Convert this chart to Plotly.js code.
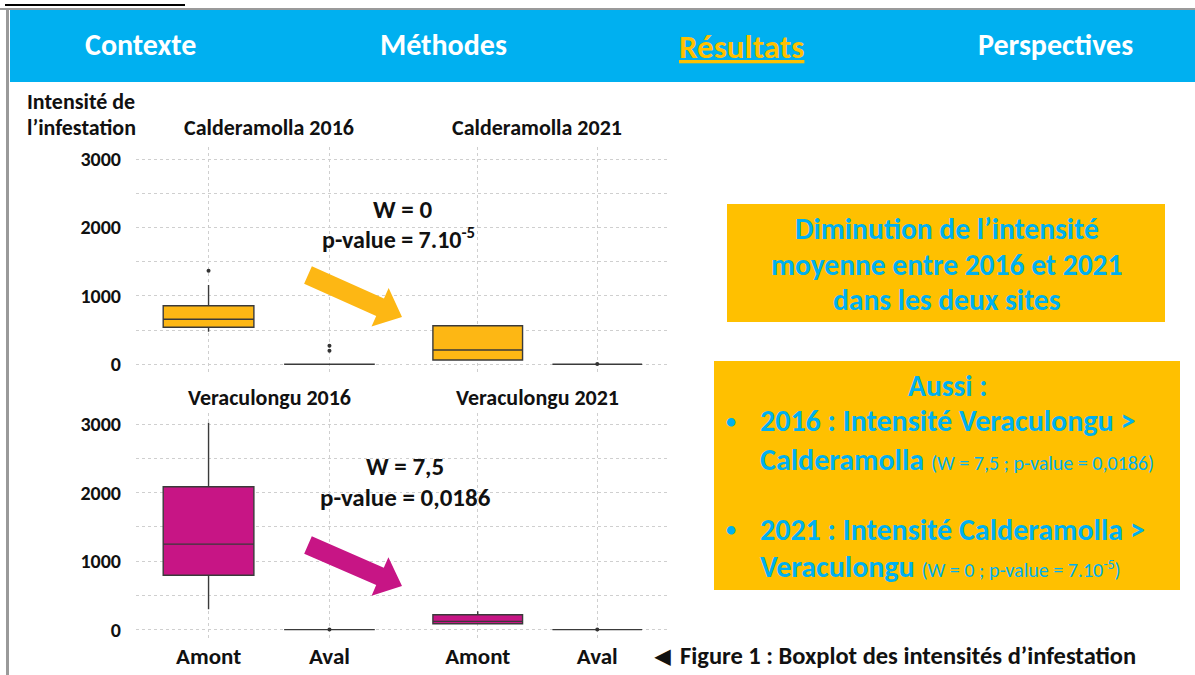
<!DOCTYPE html>
<html><head><meta charset="utf-8">
<script src="https://cdn.plot.ly/plotly-3.0.1.min.js"></script>
<style>html,body{margin:0;padding:0;background:#fff;} #chart{width:1195px;height:675px;}</style>
</head><body><div id="chart"></div>
<script>
// ---------- DATA ----------
const categories = ['Amont', 'Aval'];
const panelTitles = ['Calderamolla 2016', 'Calderamolla 2021', 'Veraculongu 2016', 'Veraculongu 2021'];
const yTickVals = [0, 1000, 2000, 3000];

// Calderamolla 2016
const cal16_q1 = [540, 0], cal16_med = [657, 0], cal16_q3 = [855, 0], cal16_lo = [476, 0], cal16_hi = [1158, 0];
const cal16_outX = ['Amont', 'Aval', 'Aval'], cal16_outY = [1366, 272, 199];
// Calderamolla 2021
const cal21_q1 = [63, 0], cal21_med = [209, 0], cal21_q3 = [563, 0], cal21_lo = [55, 0], cal21_hi = [563, 0];
const cal21_outX = ['Aval'], cal21_outY = [4];
// Veraculongu 2016
const ver16_q1 = [795, 0], ver16_med = [1249, 0], ver16_q3 = [2087, 0], ver16_lo = [299, 0], ver16_hi = [3020, 0];
const ver16_outX = ['Aval'], ver16_outY = [4];
// Veraculongu 2021
const ver21_q1 = [87, 0], ver21_med = [121, 0], ver21_q3 = [217, 0], ver21_lo = [87, 0], ver21_hi = [270, 0];
const ver21_outX = ['Aval'], ver21_outY = [4];

const navItems = ['Contexte', 'Méthodes', 'Résultats', 'Perspectives'];

// ---------- STYLE ----------
const FONT = 'Carlito, Lato, "Open Sans", sans-serif';
const ORANGE = '#FDB714';
const MAGENTA = '#C71585';
const GOLD = '#FFC000';
const BLUE = '#00B0F0';
const GRID = '#cfcfcf';
const W = 1195, H = 675;
const fx = px => px / W;
const fy = py => 1 - py / H;

function boxTrace(xa, ya, q1, med, q3, lo, hi, color) {
  return {
    type: 'box', x: categories, q1: q1, median: med, q3: q3, lowerfence: lo, upperfence: hi,
    xaxis: xa, yaxis: ya, fillcolor: color, width: 0.75, whiskerwidth: 0,
    line: {color: '#3a3a3a', width: 1.4}, boxpoints: false, hoverinfo: 'skip', showlegend: false
  };
}
function outTrace(xa, ya, xs, ys) {
  return {type: 'scatter', mode: 'markers', x: xs, y: ys, xaxis: xa, yaxis: ya,
    marker: {color: '#333', size: 4}, hoverinfo: 'skip', showlegend: false, cliponaxis: false};
}

const data = [
  boxTrace('x', 'y', cal16_q1, cal16_med, cal16_q3, cal16_lo, cal16_hi, ORANGE),
  outTrace('x', 'y', cal16_outX, cal16_outY),
  boxTrace('x2', 'y', cal21_q1, cal21_med, cal21_q3, cal21_lo, cal21_hi, ORANGE),
  outTrace('x2', 'y', cal21_outX, cal21_outY),
  boxTrace('x3', 'y2', ver16_q1, ver16_med, ver16_q3, ver16_lo, ver16_hi, MAGENTA),
  outTrace('x3', 'y2', ver16_outX, ver16_outY),
  boxTrace('x4', 'y2', ver21_q1, ver21_med, ver21_q3, ver21_lo, ver21_hi, MAGENTA),
  outTrace('x4', 'y2', ver21_outX, ver21_outY)
];

function xAxis(d, anchor, labels) {
  return {
    domain: d, anchor: anchor, type: 'category', categoryorder: 'array', categoryarray: categories,
    range: [-0.6, 1.6], showgrid: true, gridcolor: GRID, griddash: 'dot', gridwidth: 1,
    zeroline: false, showline: false, showticklabels: labels, ticks: '',
    tickfont: {family: FONT, size: 23, color: '#111', weight: 'bold'}, fixedrange: true
  };
}
function yAxis(d, anchor) {
  return {
    domain: d, anchor: anchor, range: [-151, 3171], tickvals: yTickVals, ticktext: yTickVals.map(String),
    showgrid: true, gridcolor: GRID, griddash: 'dot', gridwidth: 1,
    minor: {dtick: 500, tick0: 0, showgrid: true, gridcolor: GRID, griddash: 'dot', gridwidth: 1, ticks: ''},
    zeroline: false, showline: false, ticks: 'outside', ticklen: 10, tickcolor: 'rgba(0,0,0,0)',
    tickfont: {family: FONT, size: 20, color: '#111', weight: 'bold'}, fixedrange: true
  };
}

const p1 = [fx(136), fx(402)], p2 = [fx(406), fx(669)];
const rowTop = [fy(374.6), fy(147.3)], rowBot = [fy(640), fy(412.5)];

function arrowPath(tx, ty, hx, hy, sw, hw, hl) {
  const dx = hx - tx, dy = hy - ty, len = Math.hypot(dx, dy);
  const ux = dx / len, uy = dy / len, nx = -uy, ny = ux;
  const bx = hx - ux * hl, by = hy - uy * hl;
  const pts = [
    [tx + nx * sw / 2, ty + ny * sw / 2], [bx + nx * sw / 2, by + ny * sw / 2], [bx + nx * hw / 2, by + ny * hw / 2],
    [hx, hy], [bx - nx * hw / 2, by - ny * hw / 2], [bx - nx * sw / 2, by - ny * sw / 2], [tx - nx * sw / 2, ty - ny * sw / 2]
  ];
  return 'M ' + pts.map(p => fx(p[0]).toFixed(5) + ',' + fy(p[1]).toFixed(5)).join(' L ') + ' Z';
}
function rectPx(x0, y0, x1, y1, color, layer) {
  return {type: 'rect', xref: 'paper', yref: 'paper', x0: fx(x0), x1: fx(x1), y0: fy(y1), y1: fy(y0),
    fillcolor: color, line: {width: 0}, layer: layer || 'below'};
}

const shapes = [
  rectPx(10, 10, 1195, 82, BLUE),
  rectPx(0, 8, 1195, 10, '#9a9a9a'),
  rectPx(6, 8, 9, 675, '#9a9a9a'),
  rectPx(5, 4, 185, 6, '#000'),
  rectPx(727, 204, 1165, 322, GOLD),
  rectPx(714, 361, 1180, 590, GOLD),
  {type: 'path', xref: 'paper', yref: 'paper', path: arrowPath(308, 275, 402, 317, 19, 42, 24), fillcolor: ORANGE, line: {width: 0}, layer: 'above'},
  {type: 'path', xref: 'paper', yref: 'paper', path: arrowPath(308, 545, 402, 586, 19, 42, 24), fillcolor: MAGENTA, line: {width: 0}, layer: 'above'}
];

function ann(text, x, y, size, color, opts) {
  return Object.assign({text: text, xref: 'paper', yref: 'paper', x: fx(x), y: fy(y), showarrow: false,
    xanchor: 'center', yanchor: 'middle', font: {family: FONT, size: size, color: color, weight: 'bold'}}, opts || {});
}

const navX = [140, 443, 741, 1055];
const annotations = [
  ann(navItems[0], navX[0], 45, 30, '#fff'),
  ann(navItems[1], navX[1], 45, 30, '#fff'),
  ann('<u>' + navItems[2] + '</u>', navX[2], 47, 33, GOLD),
  ann(navItems[3], navX[3], 45, 30, '#fff'),
  ann('Intensité de', 25, 101, 22, '#111', {xanchor: 'left'}),
  ann('l’infestation', 25, 127, 22, '#111', {xanchor: 'left'}),
  ann(panelTitles[0], 269, 127, 22, '#111'),
  ann(panelTitles[1], 537, 127, 22, '#111'),
  ann(panelTitles[2], 269, 397, 22, '#111'),
  ann(panelTitles[3], 537, 397, 22, '#111'),
  ann('W = 0', 402, 209, 25, '#111'),
  ann('p-value = 7.10<sup>-5</sup>', 398, 238, 24, '#111'),
  ann('W = 7,5', 405, 466, 25, '#111'),
  ann('p-value = 0,0186', 405, 497, 25, '#111'),
  ann('Diminution de l’intensité', 947, 229, 29.5, BLUE),
  ann('moyenne entre 2016 et 2021', 947, 265, 29.5, BLUE),
  ann('dans les deux sites', 947, 300, 29.5, BLUE),
  ann('Aussi :', 947, 386, 29.5, BLUE),
  ann('•', 731, 421, 20, BLUE),
  ann('2016 : Intensité Veraculongu >', 758, 421, 30, BLUE, {xanchor: 'left'}),
  ann('Calderamolla <span style="font-size:20px;font-weight:normal">(W = 7,5 ; p-value = 0,0186)</span>', 758, 459, 30, BLUE, {xanchor: 'left'}),
  ann('•', 731, 529, 20, BLUE),
  ann('2021 : Intensité Calderamolla >', 758, 529, 30, BLUE, {xanchor: 'left'}),
  ann('Veraculongu <span style="font-size:20px;font-weight:normal">(W = 0 ; p-value = 7.10<sup>-5</sup>)</span>', 758, 566, 30, BLUE, {xanchor: 'left'}),
  ann('◀', 662, 656, 20, '#111'),
  ann('Figure 1 : Boxplot des intensités d’infestation', 678, 656, 24.5, '#111', {xanchor: 'left'})
];

const layout = {
  width: W, height: H, autosize: false,
  margin: {l: 0, r: 0, t: 0, b: 0},
  paper_bgcolor: '#fff', plot_bgcolor: '#fff', showlegend: false,
  xaxis: xAxis(p1, 'y', false),
  xaxis2: xAxis(p2, 'y', false),
  xaxis3: xAxis(p1, 'y2', true),
  xaxis4: xAxis(p2, 'y2', true),
  yaxis: yAxis(rowTop, 'x'),
  yaxis2: yAxis(rowBot, 'x3'),
  shapes: shapes,
  annotations: annotations,
  font: {family: FONT}
};

Plotly.newPlot('chart', data, layout, {displayModeBar: false, staticPlot: true});
</script>
</body></html>
